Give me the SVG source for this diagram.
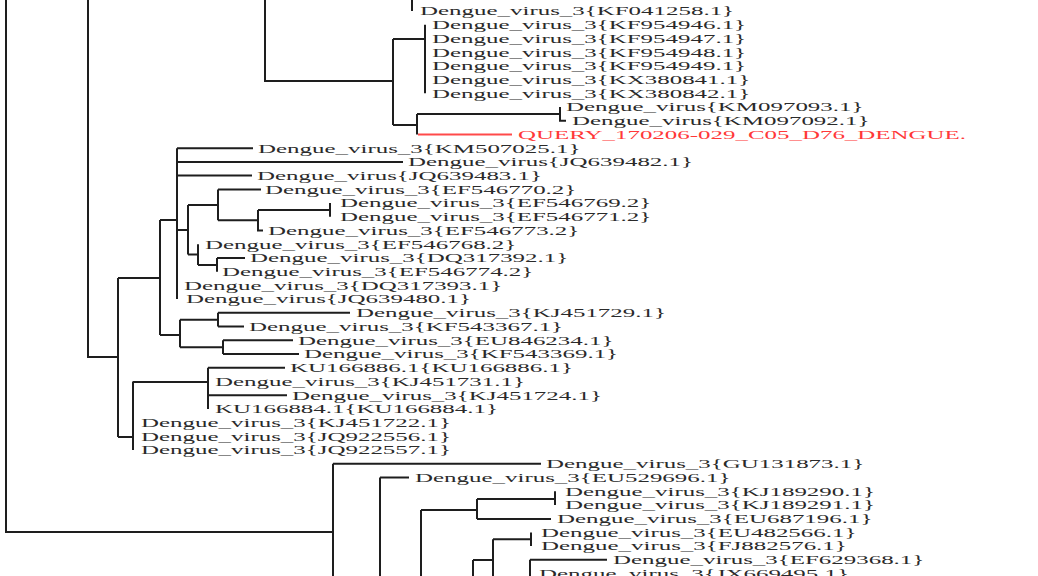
<svg xmlns="http://www.w3.org/2000/svg" width="1038" height="576" viewBox="0 0 1038 576">
<style>
.t{font-family:"Liberation Serif","Times New Roman",serif;font-size:13px;fill:#2a2a2a}
.q{fill:#ff3838}
.c path{fill:none;stroke:#1e1e1e;stroke-width:2}
.c path.r{stroke:#ff4a4a}
</style>
<rect width="1038" height="576" fill="#fff"/>
<g id="connectors" class="c">
<path d="M6,-10V532H333"/>
<path d="M88,-10V357H118"/>
<path d="M265,-10V81H393"/>
<path d="M412,-10V11"/>
<path d="M393,39V125"/>
<path d="M393,39H425M425,24.7V93.3"/>
<path d="M393,125H417M417,114V134.5"/>
<path d="M417,114H560M560,107V120.8H566"/>
<path class="r" d="M418,134.5H512"/>
<path d="M118,278V437"/>
<path d="M118,278H160M160,220V335"/>
<path d="M160,220H177M177,148.2V299.1"/>
<path d="M177,148.2H253M177,161.9H403M177,175.6H252"/>
<path d="M177,230H188M188,205V254.5"/>
<path d="M188,205H218M218,189.4V220.2M218,189.4H261"/>
<path d="M218,220.2H258M258,210V230.5H263"/>
<path d="M258,210H330M330,203.1V216.8"/>
<path d="M188,254.5H198M198,244.2V264.9"/>
<path d="M198,264.9H217M217,258V271.7M217,258H245"/>
<path d="M160,335H180M180,319.7V347.2"/>
<path d="M180,319.7H218M218,312.8V326.6M218,312.8H350M218,326.6H244"/>
<path d="M180,347.2H223M223,340.3V354M223,340.3H293M223,354H299"/>
<path d="M118,437H133M133,381.4V450"/>
<path d="M133,382H208M208,367.7V408.9M208,367.7H285M208,395.2H287"/>
<path d="M333,463.8V590M333,463.8H541"/>
<path d="M380,477.5V590M380,477.5H409"/>
<path d="M421,510V590"/>
<path d="M421,510H477M477,499V519M477,499H555M555,491.2V504.9M477,519H551"/>
<path d="M473,560V590M473,560H493M493,539.2V590"/>
<path d="M493,539.2H531M531,532.4V546.1"/>
<path d="M530,559.8V590M530,559.8H607"/>
</g>
<g id="n_KF041258"><text class="t" transform="translate(420,15.3) scale(1.92,1)">Dengue_virus_3{KF041258.1}</text></g>
<g id="n_KF954946"><text class="t" transform="translate(432,29) scale(1.92,1)">Dengue_virus_3{KF954946.1}</text></g>
<g id="n_KF954947"><text class="t" transform="translate(432,42.7) scale(1.92,1)">Dengue_virus_3{KF954947.1}</text></g>
<g id="n_KF954948"><text class="t" transform="translate(432,56.5) scale(1.92,1)">Dengue_virus_3{KF954948.1}</text></g>
<g id="n_KF954949"><text class="t" transform="translate(432,70.2) scale(1.92,1)">Dengue_virus_3{KF954949.1}</text></g>
<g id="n_KX380841"><text class="t" transform="translate(432,83.9) scale(1.92,1)">Dengue_virus_3{KX380841.1}</text></g>
<g id="n_KX380842"><text class="t" transform="translate(432,97.6) scale(1.92,1)">Dengue_virus_3{KX380842.1}</text></g>
<g id="n_KM097093"><text class="t" transform="translate(566,111.3) scale(1.92,1)">Dengue_virus{KM097093.1}</text></g>
<g id="n_KM097092"><text class="t" transform="translate(572,125.1) scale(1.92,1)">Dengue_virus{KM097092.1}</text></g>
<g id="n_QUERY"><text class="t q" transform="translate(518,138.8) scale(1.92,1)">QUERY_170206-029_C05_D76_DENGUE.</text></g>
<g id="n_KM507025"><text class="t" transform="translate(258,152.5) scale(1.92,1)">Dengue_virus_3{KM507025.1}</text></g>
<g id="n_JQ639482"><text class="t" transform="translate(408,166.2) scale(1.92,1)">Dengue_virus{JQ639482.1}</text></g>
<g id="n_JQ639483"><text class="t" transform="translate(257,179.9) scale(1.92,1)">Dengue_virus{JQ639483.1}</text></g>
<g id="n_EF546770"><text class="t" transform="translate(265,193.7) scale(1.92,1)">Dengue_virus_3{EF546770.2}</text></g>
<g id="n_EF546769"><text class="t" transform="translate(340,207.4) scale(1.92,1)">Dengue_virus_3{EF546769.2}</text></g>
<g id="n_EF546771"><text class="t" transform="translate(340,221.1) scale(1.92,1)">Dengue_virus_3{EF546771.2}</text></g>
<g id="n_EF546773"><text class="t" transform="translate(268,234.8) scale(1.92,1)">Dengue_virus_3{EF546773.2}</text></g>
<g id="n_EF546768"><text class="t" transform="translate(205,248.5) scale(1.92,1)">Dengue_virus_3{EF546768.2}</text></g>
<g id="n_DQ317392"><text class="t" transform="translate(250,262.3) scale(1.92,1)">Dengue_virus_3{DQ317392.1}</text></g>
<g id="n_EF546774"><text class="t" transform="translate(222,276) scale(1.92,1)">Dengue_virus_3{EF546774.2}</text></g>
<g id="n_DQ317393"><text class="t" transform="translate(184,289.7) scale(1.92,1)">Dengue_virus_3{DQ317393.1}</text></g>
<g id="n_JQ639480"><text class="t" transform="translate(186,303.4) scale(1.92,1)">Dengue_virus{JQ639480.1}</text></g>
<g id="n_KJ451729"><text class="t" transform="translate(356,317.1) scale(1.92,1)">Dengue_virus_3{KJ451729.1}</text></g>
<g id="n_KF543367"><text class="t" transform="translate(249,330.9) scale(1.92,1)">Dengue_virus_3{KF543367.1}</text></g>
<g id="n_EU846234"><text class="t" transform="translate(298,344.6) scale(1.92,1)">Dengue_virus_3{EU846234.1}</text></g>
<g id="n_KF543369"><text class="t" transform="translate(304,358.3) scale(1.92,1)">Dengue_virus_3{KF543369.1}</text></g>
<g id="n_KU166886"><text class="t" transform="translate(290,372) scale(1.92,1)">KU166886.1{KU166886.1}</text></g>
<g id="n_KJ451731"><text class="t" transform="translate(215,385.7) scale(1.92,1)">Dengue_virus_3{KJ451731.1}</text></g>
<g id="n_KJ451724"><text class="t" transform="translate(292,399.5) scale(1.92,1)">Dengue_virus_3{KJ451724.1}</text></g>
<g id="n_KU166884"><text class="t" transform="translate(215,413.2) scale(1.92,1)">KU166884.1{KU166884.1}</text></g>
<g id="n_KJ451722"><text class="t" transform="translate(141,426.9) scale(1.92,1)">Dengue_virus_3{KJ451722.1}</text></g>
<g id="n_JQ922556"><text class="t" transform="translate(141,440.6) scale(1.92,1)">Dengue_virus_3{JQ922556.1}</text></g>
<g id="n_JQ922557"><text class="t" transform="translate(141,454.3) scale(1.92,1)">Dengue_virus_3{JQ922557.1}</text></g>
<g id="n_GU131873"><text class="t" transform="translate(546,468.1) scale(1.92,1)">Dengue_virus_3{GU131873.1}</text></g>
<g id="n_EU529696"><text class="t" transform="translate(415,481.8) scale(1.92,1)">Dengue_virus_3{EU529696.1}</text></g>
<g id="n_KJ189290"><text class="t" transform="translate(565,495.5) scale(1.92,1)">Dengue_virus_3{KJ189290.1}</text></g>
<g id="n_KJ189291"><text class="t" transform="translate(565,509.2) scale(1.92,1)">Dengue_virus_3{KJ189291.1}</text></g>
<g id="n_EU687196"><text class="t" transform="translate(557,522.9) scale(1.92,1)">Dengue_virus_3{EU687196.1}</text></g>
<g id="n_EU482566"><text class="t" transform="translate(541,536.7) scale(1.92,1)">Dengue_virus_3{EU482566.1}</text></g>
<g id="n_FJ882576"><text class="t" transform="translate(541,550.4) scale(1.92,1)">Dengue_virus_3{FJ882576.1}</text></g>
<g id="n_EF629368"><text class="t" transform="translate(613,564.1) scale(1.92,1)">Dengue_virus_3{EF629368.1}</text></g>
<g id="n_JX669495"><text class="t" transform="translate(539,577.8) scale(1.92,1)">Dengue_virus_3{JX669495.1}</text></g>
</svg>
